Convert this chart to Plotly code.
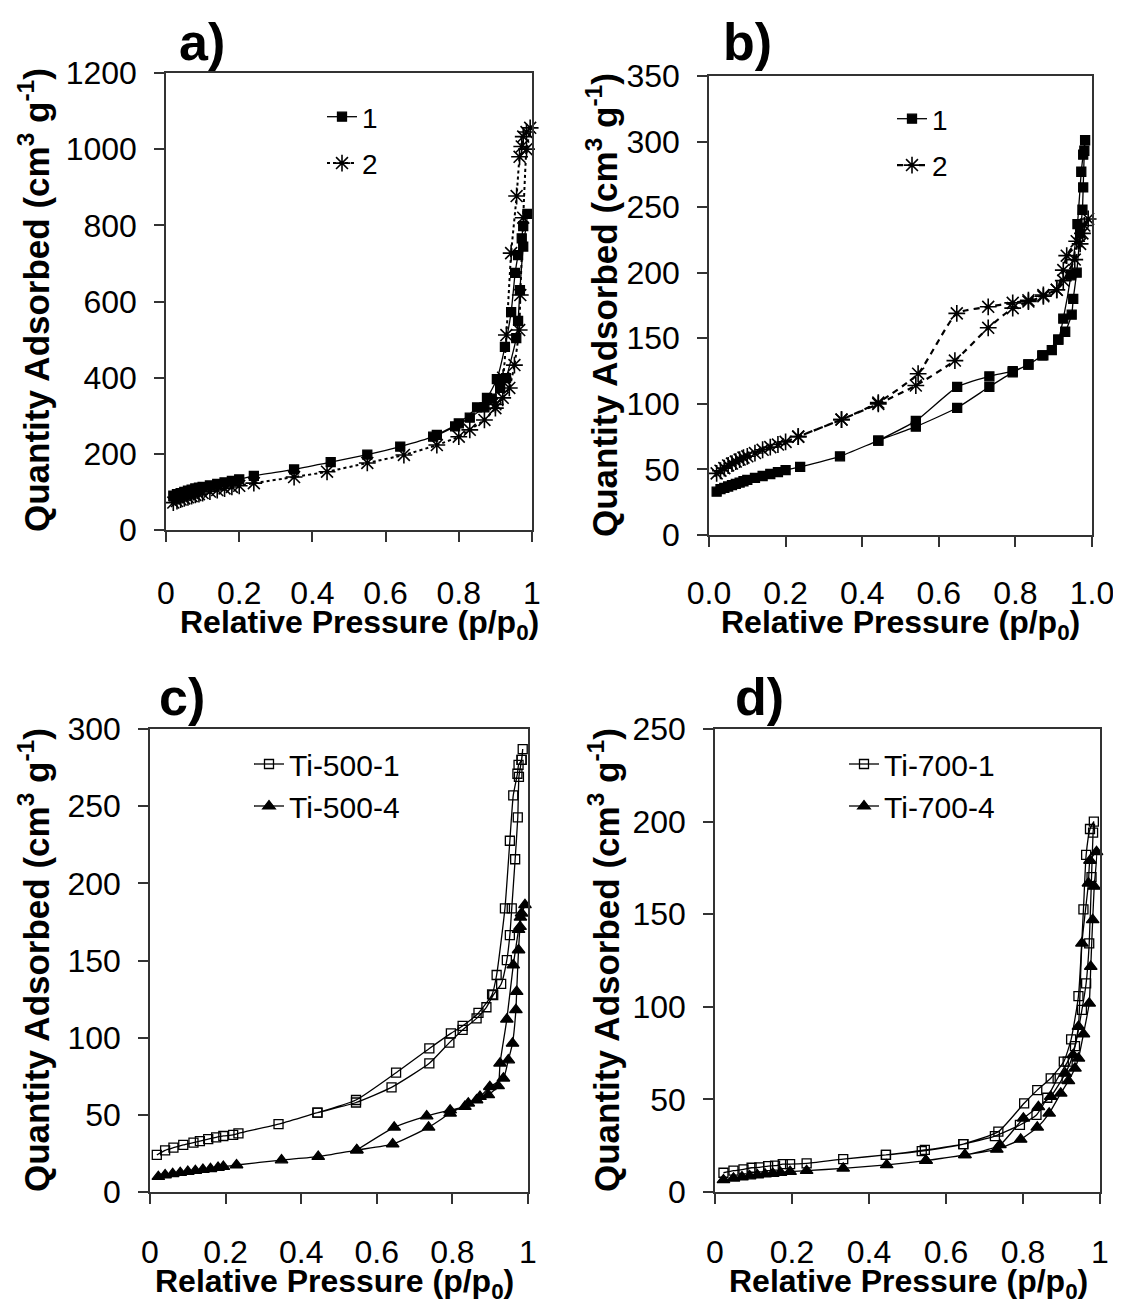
import plotly.graph_objects as go

# page body has an 8px margin, so the figure is placed at (8, 8) in the window
OFF = 8
W, H = 1121 - OFF, 1304 - OFF
FONT = "Liberation Sans"

# ---- panel a ----
a1_ads_p = [0.02, 0.03, 0.04, 0.05, 0.06, 0.07, 0.08, 0.09, 0.10, 0.12, 0.14, 0.16, 0.18, 0.20, 0.24,
            0.35, 0.45, 0.55, 0.64, 0.73, 0.79, 0.83, 0.87, 0.89, 0.913, 0.929, 0.957, 0.962, 0.967, 0.976, 0.988]
a1_ads_v = [90, 94, 97, 100, 103, 106, 109, 111, 113, 117, 121, 125, 129, 133, 142,
            159, 178, 198, 219, 245, 272, 295, 322, 345, 373, 399, 504, 549, 630, 744, 830]
a1_des_p = [0.976, 0.972, 0.962, 0.954, 0.943, 0.926, 0.904, 0.877, 0.85, 0.80, 0.74]
a1_des_v = [798, 766, 722, 675, 572, 481, 396, 347, 322, 280, 250]

a2_ads_p = [0.02, 0.03, 0.04, 0.05, 0.06, 0.07, 0.08, 0.09, 0.10, 0.12, 0.14, 0.16, 0.18, 0.20, 0.24,
            0.35, 0.44, 0.55, 0.65, 0.74, 0.80, 0.83, 0.87, 0.90, 0.92, 0.938, 0.952, 0.965, 0.968, 0.976, 0.985, 0.995]
a2_ads_v = [72, 76, 80, 83, 86, 89, 92, 94, 97, 101, 105, 109, 113, 116, 123,
            139, 153, 176, 197, 223, 245, 263, 289, 320, 347, 373, 433, 525, 617, 820, 1000, 1056]
a2_des_p = [0.985, 0.976, 0.972, 0.966, 0.958, 0.943, 0.93, 0.921, 0.90]
a2_des_v = [1045, 1033, 1007, 980, 877, 727, 512, 400, 330]

# ---- panel b ----
b1_ads_p = [0.02, 0.03, 0.04, 0.05, 0.06, 0.07, 0.08, 0.09, 0.10, 0.12, 0.14, 0.16, 0.18, 0.20, 0.238,
            0.342, 0.442, 0.54, 0.648, 0.732, 0.793, 0.834, 0.873, 0.895, 0.912, 0.93, 0.947, 0.951, 0.96,
            0.969, 0.975, 0.977, 0.98, 0.982]
b1_ads_v = [33, 35, 36, 37, 38, 39, 40, 41, 42, 43.5, 45, 46.5, 48, 49.5, 52,
            60, 72, 82.6, 97, 113, 124, 130, 137, 141, 149, 155, 168, 180, 200,
            230, 248, 265, 293, 301]
b1_des_p = [0.977, 0.972, 0.962, 0.945, 0.925, 0.912, 0.87, 0.834, 0.793, 0.732, 0.648, 0.54, 0.442]
b1_des_v = [290, 277, 237, 198, 165, 149, 137, 130, 125, 121, 113, 87, 72]

b2_ads_p = [0.02, 0.03, 0.04, 0.05, 0.06, 0.07, 0.08, 0.09, 0.10, 0.12, 0.14, 0.16, 0.18, 0.20, 0.233,
            0.346, 0.442, 0.54, 0.642, 0.729, 0.793, 0.834, 0.873, 0.908, 0.925, 0.934, 0.96, 0.975, 0.99]
b2_ads_v = [47, 49, 51, 53, 54.5, 56, 57.5, 59, 60, 62.5, 65, 67, 69, 71, 75,
            88, 100, 114, 133, 158, 173, 178, 182, 187, 202, 213, 224, 230, 241]
b2_des_p = [0.98, 0.969, 0.955, 0.925, 0.908, 0.873, 0.834, 0.793, 0.729, 0.647, 0.546, 0.442, 0.346, 0.233]
b2_des_v = [236, 222, 210, 194, 187, 183, 179, 177, 174, 169, 123, 101, 88, 75]

# ---- panel c ----
c1_ads_p = [0.018, 0.04, 0.062, 0.088, 0.115, 0.132, 0.154, 0.175, 0.194, 0.22, 0.234, 0.34, 0.443, 0.545,
            0.639, 0.739, 0.792, 0.827, 0.864, 0.89, 0.908, 0.929, 0.944, 0.952, 0.957, 0.966, 0.973, 0.976,
            0.983, 0.986]
c1_ads_v = [24, 27, 28.7, 30.5, 32, 33, 34.3, 35.4, 36.3, 37, 38, 44, 51.4, 58,
            67.8, 83.4, 96.8, 105, 112.5, 119.7, 127.6, 134.8, 150.3, 166.5, 183.8, 215.6, 242.8, 269,
            280, 287]
c1_des_p = [0.983, 0.975, 0.972, 0.961, 0.952, 0.939, 0.917, 0.905, 0.869, 0.827, 0.796, 0.739, 0.651, 0.545, 0.443]
c1_des_v = [280, 276.7, 271, 257, 227.6, 183.8, 140.6, 128, 116, 107.6, 102.8, 93, 77.3, 59.6, 51.4]

c4_ads_p = [0.022, 0.04, 0.06, 0.08, 0.10, 0.12, 0.14, 0.16, 0.18, 0.194, 0.229, 0.348, 0.445, 0.547,
            0.642, 0.737, 0.794, 0.842, 0.873, 0.899, 0.935, 0.948, 0.959, 0.968, 0.97, 0.975, 0.979, 0.983, 0.992]
c4_ads_v = [9.9, 11, 11.8, 12.5, 13.2, 13.8, 14.5, 15, 15.8, 16.4, 17.5, 20.7, 22.9, 27.2,
            31, 41.9, 51, 57.5, 61.8, 68.2, 73.7, 85.5, 96.3, 118, 129.8, 156.8, 171.9, 180.6, 186]
c4_des_p = [0.98, 0.975, 0.961, 0.944, 0.926, 0.921, 0.895, 0.864, 0.833, 0.794, 0.732, 0.646, 0.547]
c4_des_v = [178, 170, 147, 111.9, 83.4, 68.7, 62.9, 59.6, 55.3, 53, 49.2, 41.9, 27.2]

# ---- panel d ----
d1_ads_p = [0.022, 0.048, 0.074, 0.095, 0.115, 0.138, 0.156, 0.176, 0.195, 0.238, 0.333, 0.444, 0.545,
            0.645, 0.727, 0.792, 0.835, 0.863, 0.89, 0.916, 0.935, 0.953, 0.964, 0.972, 0.978, 0.982, 0.984]
d1_ads_v = [10.4, 11.5, 12.2, 13.1, 13.3, 14, 14.2, 15, 15, 15.5, 17.8, 20, 22.7,
            25.9, 30.2, 36.2, 41.6, 50.9, 61.4, 70.4, 78.8, 98.3, 112.7, 134.3, 170, 194, 200]
d1_des_p = [0.974, 0.964, 0.957, 0.944, 0.925, 0.906, 0.872, 0.837, 0.803, 0.736, 0.645, 0.537, 0.444]
d1_des_v = [196, 182, 152.6, 105.8, 82.4, 70.4, 61.4, 55, 47.9, 32.6, 25.9, 22.1, 20]

d4_ads_p = [0.022, 0.048, 0.07, 0.09, 0.11, 0.13, 0.15, 0.17, 0.195, 0.238, 0.333, 0.446, 0.548,
            0.649, 0.732, 0.794, 0.837, 0.868, 0.898, 0.918, 0.935, 0.944, 0.957, 0.972, 0.976, 0.981, 0.985, 0.991]
d4_ads_v = [6.5, 7.4, 8, 8.6, 9.1, 9.6, 10, 10.5, 11, 11.5, 12.8, 14.6, 16.9,
            20, 23, 28.4, 34.9, 42.5, 53.3, 60, 66.8, 72.2, 85.3, 101.9, 121.7, 146.9, 165, 183.7]
d4_des_p = [0.974, 0.97, 0.953, 0.944, 0.93, 0.91, 0.872, 0.84, 0.801, 0.74, 0.649, 0.548]
d4_des_v = [179, 166.7, 134.3, 89.3, 74, 64, 51.5, 46, 39.8, 25.4, 20, 17]

x_ticks = [0, 0.2, 0.4, 0.6, 0.8, 1.0]


# positions below are window pixels; convert to paper fractions
def px(x):
    return (x - OFF) / W


def py(y):
    return 1 - (y - OFF) / H


def dx(l, r):
    return [px(l), px(r)]


def dy(t, b):
    return [py(b), py(t)]


fig = go.Figure()


def add(p_a, v_a, p_d, v_d, name, ax, leg, symbol, msize, dash="solid", lw=1.3, mlw=1.3):
    fig.add_trace(go.Scatter(
        x=p_a + p_d, y=v_a + v_d, name=name, mode="lines+markers",
        xaxis="x" + ax, yaxis="y" + ax, legend=leg, legendgroup=name,
        line=dict(color="black", width=lw, dash=dash, shape="spline", smoothing=0.5),
        marker=dict(symbol=symbol, size=msize, color="black",
                    line=dict(color="black", width=mlw)),
        cliponaxis=False,
    ))


add(a1_ads_p, a1_ads_v, a1_des_p, a1_des_v, "1", "", "legend", "square", 9)
add(a2_ads_p, a2_ads_v, a2_des_p, a2_des_v, "2", "", "legend", "asterisk-open", 14, dash="dot", lw=2, mlw=1.6)
add(b1_ads_p, b1_ads_v, b1_des_p, b1_des_v, "1 ", "2", "legend2", "square", 9)
add(b2_ads_p, b2_ads_v, b2_des_p, b2_des_v, "2 ", "2", "legend2", "asterisk-open", 14, dash="6px,5px", lw=2.2, mlw=1.6)
add(c1_ads_p, c1_ads_v, c1_des_p, c1_des_v, "Ti-500-1", "3", "legend3", "square-open", 9)
add(c4_ads_p, c4_ads_v, c4_des_p, c4_des_v, "Ti-500-4", "3", "legend3", "triangle-up", 11)
add(d1_ads_p, d1_ads_v, d1_des_p, d1_des_v, "Ti-700-1", "4", "legend4", "square-open", 9)
add(d4_ads_p, d4_ads_v, d4_des_p, d4_des_v, "Ti-700-4", "4", "legend4", "triangle-up", 11)

axis_common = dict(showline=True, linecolor="#333", linewidth=1.5, mirror=True,
                   ticks="outside", ticklen=10, tickwidth=1.5, tickcolor="#333",
                   showgrid=False, zeroline=False, automargin=False,
                   ticklabeloverflow="allow",
                   tickfont=dict(family=FONT, size=32, color="black"))


def xax(dom, anchor, standoff, fmt=None):
    d = dict(axis_common, domain=dom, anchor=anchor, range=[0, 1], tickvals=x_ticks,
             ticklabelstandoff=standoff)
    if fmt:
        d["tickformat"] = fmt
    return d


def yax(dom, anchor, top, step):
    return dict(axis_common, domain=dom, anchor=anchor, range=[0, top], dtick=step,
                ticklabelstandoff=11)


fig.update_layout(
    xaxis=xax(dx(166, 532), "y", 24),
    yaxis=yax(dy(73, 530), "x", 1200, 200),
    xaxis2=xax(dx(709, 1092), "y2", 19, ".1f"),
    yaxis2=yax(dy(76, 535), "x2", 350, 50),
    xaxis3=xax(dx(150, 528), "y3", 21),
    yaxis3=yax(dy(729, 1192), "x3", 300, 50),
    xaxis4=xax(dx(715, 1100), "y4", 21),
    yaxis4=yax(dy(729, 1192), "x4", 250, 50),
)


def leg(x, y, size, gap):
    return dict(x=px(x), y=py(y), xanchor="left", yanchor="top",
                font=dict(family=FONT, size=size, color="black"),
                bgcolor="rgba(0,0,0,0)", tracegroupgap=gap, itemwidth=30)


fig.update_layout(
    legend=leg(322, 92, 28, 7),
    legend2=leg(892, 94, 28, 7),
    legend3=leg(249, 738, 30, 0),
    legend4=leg(844, 738, 30, 0),
)

ytitle = "<b>Quantity Adsorbed (cm<sup>3</sup> g<sup>-1</sup>)</b>"
xtitle = "<b>Relative Pressure (p/p<sub>0</sub>)</b>"

annots = []
for label, lx, ly in [("a)", 202, 42), ("b)", 747, 42), ("c)", 182, 697), ("d)", 759, 697)]:
    annots.append(dict(text="<b>" + label + "</b>", x=px(lx), y=py(ly), xref="paper", yref="paper",
                       showarrow=False, xanchor="center", yanchor="middle",
                       font=dict(family=FONT, size=52, color="black")))
for tx, ty in [(359, 624), (900, 624), (334, 1283), (908, 1283)]:
    annots.append(dict(text=xtitle, x=px(tx), y=py(ty), xref="paper", yref="paper",
                       showarrow=False, xanchor="center", yanchor="middle",
                       font=dict(family=FONT, size=32, color="black")))
for tx, ty in [(34, 300), (602, 305), (34, 960), (604, 960)]:
    annots.append(dict(text=ytitle, x=px(tx), y=py(ty), xref="paper", yref="paper",
                       showarrow=False, xanchor="center", yanchor="middle", textangle=-90,
                       font=dict(family=FONT, size=35, color="black")))

fig.update_layout(
    width=W, height=H, margin=dict(l=0, r=0, t=0, b=0),
    paper_bgcolor="white", plot_bgcolor="white",
    annotations=annots,
    font=dict(family=FONT, color="black"),
)

fig.write_html("out.html")
